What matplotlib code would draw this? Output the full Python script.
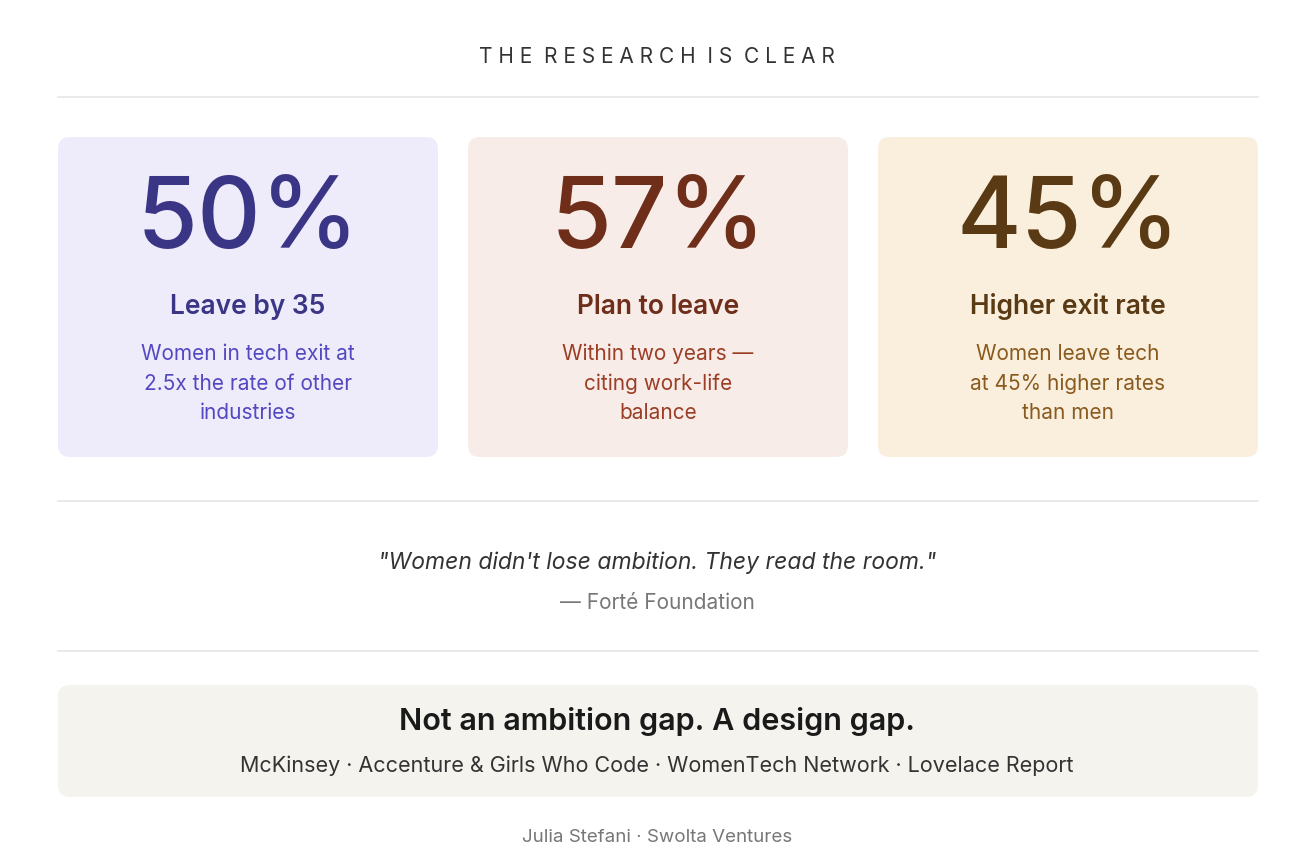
import matplotlib
matplotlib.use("Agg")
import matplotlib.pyplot as plt
from matplotlib.patches import FancyBboxPatch

plt.rcParams["font.family"] = ["Inter", "DejaVu Sans"]

# ---------------------------------------------------------------------------
# Data
# ---------------------------------------------------------------------------
stats = ["50%", "57%", "45%"]
headings = ["Leave by 35", "Plan to leave", "Higher exit rate"]
descriptions = [
    ["Women in tech exit at", "2.5x the rate of other", "industries"],
    ["Within two years \u2014", "citing work-life", "balance"],
    ["Women leave tech", "at 45% higher rates", "than men"],
]
card_bg = ["#eeecfb", "#f8ece8", "#f9efdc"]
stat_color = ["#3a3585", "#6e2e1a", "#5a3a14"]
desc_color = ["#5448c0", "#9c3e26", "#8a5a1e"]

title = "THE RESEARCH IS CLEAR"
quote = "\"Women didn't lose ambition. They read the room.\""
quote_source = "\u2014 Fort\u00e9 Foundation"
takeaway = "Not an ambition gap. A design gap."
sources = "McKinsey \u00b7 Accenture & Girls Who Code \u00b7 WomenTech Network \u00b7 Lovelace Report"
credit = "Julia Stefani \u00b7 Swolta Ventures"

# ---------------------------------------------------------------------------
# Layout (pixel coordinates)
# ---------------------------------------------------------------------------
W, H = 1314, 858
fig = plt.figure(figsize=(W / 100, H / 100), dpi=100)
ax = fig.add_axes([0, 0, 1, 1])
ax.set_xlim(0, W); ax.set_ylim(H, 0); ax.axis("off")

ax.text(W / 2, 57, "  ".join(" ".join(w) for w in title.split()), ha="center", va="center",
        fontsize=15, color="#333333")

for y in (97, 501, 651):
    ax.plot([58, 1258], [y, y], color="#e6e6e6", lw=1.2)

card_x = [58, 468, 878]
card_w, card_top, card_h = 380, 137, 320
for i, x0 in enumerate(card_x):
    ax.add_patch(FancyBboxPatch((x0, card_top), card_w, card_h,
                                boxstyle="round,pad=0,rounding_size=12",
                                fc=card_bg[i], ec="none"))
    cx = x0 + card_w / 2
    ax.text(cx, 222, stats[i], ha="center", va="center", fontsize=71,
            color=stat_color[i], fontweight="medium")
    ax.text(cx, 307, headings[i], ha="center", va="center", fontsize=19,
            color=stat_color[i], fontweight="semibold")
    for j, line in enumerate(descriptions[i]):
        ax.text(cx, 354 + 29.5 * j, line, ha="center", va="center",
                fontsize=15, color=desc_color[i])

ax.text(W / 2, 563, quote, ha="center", va="center", fontsize=16.5,
        style="italic", color="#333333")
ax.text(W / 2, 603, quote_source, ha="center", va="center", fontsize=15,
        color="#777777")

ax.add_patch(FancyBboxPatch((58, 685), 1200, 112,
                            boxstyle="round,pad=0,rounding_size=12",
                            fc="#f4f3ee", ec="none"))
ax.text(W / 2, 722, takeaway, ha="center", va="center", fontsize=22,
        fontweight="semibold", color="#1a1a1a")
ax.text(W / 2, 766, sources, ha="center", va="center", fontsize=15.5,
        color="#333333")

ax.text(W / 2, 838, credit, ha="center", va="center", fontsize=13.5,
        color="#777777")

fig.savefig("out.png", dpi=100, facecolor="white")
